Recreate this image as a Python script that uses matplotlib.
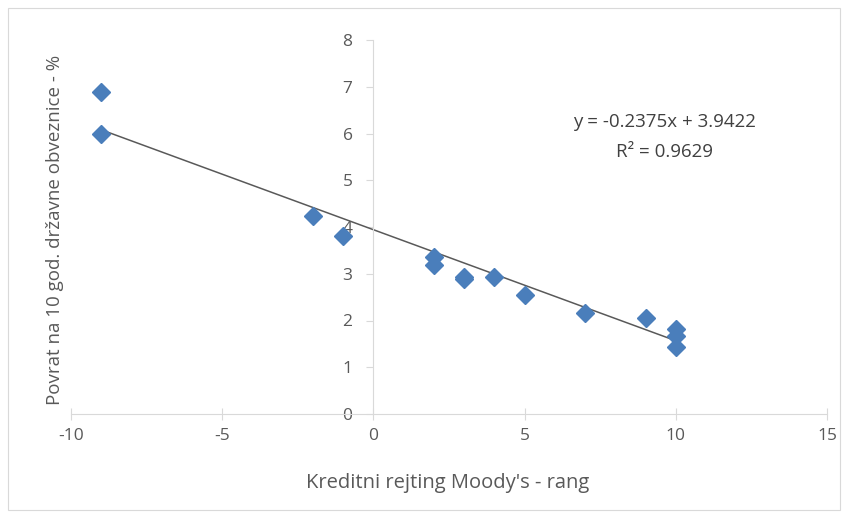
import matplotlib
matplotlib.use("Agg")
import matplotlib.pyplot as plt
import numpy as np

# rating rank vs 10y bond yield
rang = [-9, -9, -2, -1, 2, 2, 3, 3, 4, 5, 7, 9, 10, 10, 10]
povrat = [6.88, 5.99, 4.24, 3.81, 3.36, 3.19, 2.93, 2.88, 2.92, 2.55, 2.15, 2.05, 1.82, 1.67, 1.44]

slope, intercept = -0.2375, 3.9422
eq_text = "y = -0.2375x + 3.9422"
r2_text = "R² = 0.9629"

xticks = [-10, -5, 0, 5, 10, 15]
yticks = [0, 1, 2, 3, 4, 5, 6, 7, 8]

plt.rcParams['font.family'] = ['Open Sans', 'DejaVu Sans']
plt.rcParams['axes.unicode_minus'] = False
txt = '#595959'
axc = '#d9d9d9'

fig = plt.figure(figsize=(8.48, 5.18), dpi=100)
ax = fig.add_axes([71/848, 1 - 414/518, (827-71)/848, (414-40)/518])

fig.patches.append(plt.Rectangle((0.01, 0.015), 0.98, 0.97, transform=fig.transFigure,
                                 fill=False, edgecolor='#d9d9d9', lw=0.8))

ax.plot(rang, povrat, 'D', color='#4a7ebb', ms=9, mec='#4a7ebb', zorder=3)

xl = np.array([min(rang), max(rang)])
ax.plot(xl, slope * xl + intercept, color='#595959', lw=1.1, zorder=2)

ax.set_xlim(-10, 15)
ax.set_ylim(0, 8)
ax.spines['left'].set_position(('data', 0))
ax.spines['bottom'].set_position(('data', 0))
ax.spines['top'].set_visible(False)
ax.spines['right'].set_visible(False)
ax.spines['left'].set_color(axc)
ax.spines['bottom'].set_color(axc)
ax.set_xticks(xticks)
ax.set_yticks(yticks)
ax.tick_params(axis='x', colors=axc, labelcolor=txt, labelsize=12.5, direction='inout', length=8, pad=6)
ax.tick_params(axis='y', colors=axc, labelcolor=txt, labelsize=12.5, direction='out', length=5, pad=10)

ax.text(9.64, 6.25, eq_text, ha='center', va='center', fontsize=13.5, color='#404040')
ax.text(9.64, 5.6, r2_text, ha='center', va='center', fontsize=13.5, color='#404040')

fig.text(448/848, 1 - 483/518, "Kreditni rejting Moody's - rang", ha='center', va='center',
         fontsize=14.5, color=txt)
fig.text(55/848, 1 - 230/518, "Povrat na 10 god. državne obveznice - %", ha='center', va='center',
         rotation=90, fontsize=13.5, color=txt)

fig.savefig('out.png', dpi=100)
